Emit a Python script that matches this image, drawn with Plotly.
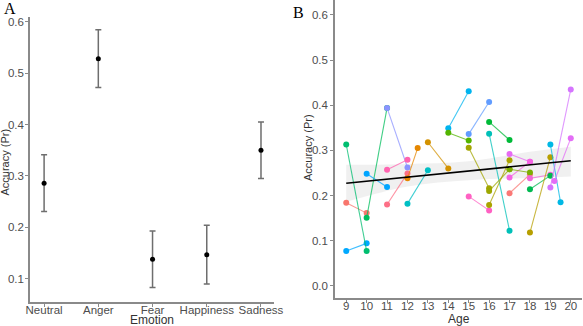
import plotly.graph_objects as go

# ---------------- Panel A data ----------------
emotions = ["Neutral", "Anger", "Fear", "Happiness", "Sadness"]
acc_mean = [0.286, 0.528, 0.138, 0.147, 0.350]
acc_err = [0.055, 0.056, 0.055, 0.057, 0.055]
a_yticks = [0.1, 0.2, 0.3, 0.4, 0.5, 0.6]

# ---------------- Panel B data ----------------
# each participant: two visits (age, accuracy)
p_age1 = [9, 9, 9, 10, 10, 11, 11, 11, 12, 12, 13, 14, 14, 15, 15, 15, 16, 16, 16, 16,
          17, 17, 17, 17, 18, 18, 18, 19, 19, 19.2]
p_acc1 = [0.184, 0.077, 0.313, 0.151, 0.248, 0.394, 0.257, 0.180, 0.238, 0.182, 0.318, 0.349,
          0.339, 0.336, 0.306, 0.198, 0.363, 0.337, 0.179, 0.210,
          0.292, 0.240, 0.205, 0.258, 0.238, 0.214, 0.118, 0.313, 0.218, 0.232]
p_age2 = [10, 10, 10, 11, 11, 12, 12, 12, 12.5, 13, 14, 15, 15, 16, 16, 16, 17, 17, 17, 17,
          18, 18, 18, 18, 19, 19, 19, 19.5, 20, 20]
p_acc2 = [0.161, 0.094, 0.077, 0.394, 0.219, 0.262, 0.279, 0.249, 0.305, 0.256, 0.260, 0.431,
          0.322, 0.407, 0.216, 0.167, 0.323, 0.122, 0.278, 0.258,
          0.275, 0.275, 0.247, 0.251, 0.246, 0.244, 0.285, 0.185, 0.435, 0.327]
p_color = ["#F8766D", "#00A9FF", "#00BE70", "#00BD5C", "#00A5FF", "#8B93FF", "#FF64B0", "#FD6F86",
           "#E58700", "#00BFC4", "#D39200", "#00B4EF", "#53B400", "#619CFF", "#A3A500", "#FF61C3",
           "#00BA38", "#00C0B8", "#ABA300", "#9DA700",
           "#E76BF3", "#F564E3", "#FA7876", "#7CAE00", "#F067D9", "#00B950", "#B79F00", "#00B8E5",
           "#D575FE", "#E36EF6"]

# fitted line and confidence band
fit_age = [9, 20]
fit_acc = [0.227, 0.277]
band_age = [9, 12, 15, 18, 20]
band_lo = [0.186, 0.220, 0.234, 0.239, 0.242]
band_hi = [0.268, 0.270, 0.276, 0.297, 0.308]
b_xticks = list(range(9, 21))
b_yticks = [0.0, 0.1, 0.2, 0.3, 0.4, 0.5, 0.6]


def rgba(h, a):
    h = h.lstrip("#")
    return "rgba(%d,%d,%d,%.2f)" % (int(h[0:2], 16), int(h[2:4], 16), int(h[4:6], 16), a)


fig = go.Figure()

# Panel A
fig.add_trace(go.Scatter(
    x=list(range(len(emotions))), y=acc_mean, mode="markers",
    marker=dict(color="black", size=5),
    error_y=dict(type="data", array=acc_err, color="#6e6e6e", thickness=1.5, width=3),
    xaxis="x", yaxis="y", showlegend=False))

# Panel B: confidence band
fig.add_trace(go.Scatter(x=band_age, y=band_lo, mode="lines", line=dict(width=0, shape="spline"),
                         xaxis="x2", yaxis="y2", showlegend=False, hoverinfo="skip"))
fig.add_trace(go.Scatter(x=band_age, y=band_hi, mode="lines", line=dict(width=0, shape="spline"),
                         fill="tonexty", fillcolor="rgba(225,225,225,0.5)",
                         xaxis="x2", yaxis="y2", showlegend=False, hoverinfo="skip"))

for a1, v1, a2, v2, c in zip(p_age1, p_acc1, p_age2, p_acc2, p_color):
    fig.add_trace(go.Scatter(
        x=[a1, a2], y=[v1, v2], mode="lines+markers",
        line=dict(color=rgba(c, 0.75), width=1.1),
        marker=dict(color=c, size=6),
        xaxis="x2", yaxis="y2", showlegend=False))

fig.add_trace(go.Scatter(x=fit_age, y=fit_acc, mode="lines", line=dict(color="black", width=1.6),
                         xaxis="x2", yaxis="y2", showlegend=False))

axis_common = dict(showline=True, linecolor="#8a8a8a", linewidth=1.5, ticks="outside",
                   ticklen=3, tickcolor="#8a8a8a", tickwidth=1, showgrid=False, zeroline=False,
                   automargin=False, tickangle=0,
                   tickfont=dict(family="Liberation Sans, Arial", size=11.5, color="#4d4d4d"))

fig.update_layout(
    width=583, height=326,
    margin=dict(l=0, r=0, t=0, b=0, autoexpand=False),
    paper_bgcolor="white", plot_bgcolor="white",
    font=dict(family="Liberation Sans, Arial", color="#333333"),
    xaxis=dict(domain=[30 / 583, 274 / 583], range=[-0.26, 4.24], ticklabelstandoff=-7,
               tickvals=list(range(len(emotions))), ticktext=emotions, **axis_common),
    yaxis=dict(domain=[24 / 326, 309 / 326], range=[0.055, 0.609], anchor="x",
               ticklabelstandoff=-1,
               tickvals=a_yticks, ticktext=["%.1f" % v for v in a_yticks], **axis_common),
    xaxis2=dict(domain=[335 / 583, 582 / 583], range=[8.45, 20.55], anchor="y2",
                ticklabelstandoff=-7, tickvals=b_xticks, **axis_common),
    yaxis2=dict(domain=[28 / 326, 1.0], range=[-0.027, 0.633], anchor="x2",
                tickvals=b_yticks, ticktext=["%.1f" % v for v in b_yticks], **axis_common),
    annotations=[
        dict(text="A", x=2 / 583, y=1 - 9 / 326, xref="paper", yref="paper", showarrow=False,
             xanchor="left", yanchor="middle",
             font=dict(family="Liberation Serif, Times New Roman", size=16, color="black")),
        dict(text="B", x=291 / 583, y=1 - 12 / 326, xref="paper", yref="paper", showarrow=False,
             xanchor="left", yanchor="middle",
             font=dict(family="Liberation Serif, Times New Roman", size=16, color="black")),
        dict(text="Accuracy (Pr)", x=4.5 / 583, y=1 - 162 / 326, xref="paper", yref="paper",
             showarrow=False, textangle=-90, xanchor="center", yanchor="middle",
             font=dict(size=11, color="#333333")),
        dict(text="Emotion", x=152 / 583, y=1 - 319.5 / 326, xref="paper", yref="paper",
             showarrow=False, xanchor="center", yanchor="middle",
             font=dict(size=12, color="#333333")),
        dict(text="Accuracy (Pr)", x=308 / 583, y=1 - 148 / 326, xref="paper", yref="paper",
             showarrow=False, textangle=-90, xanchor="center", yanchor="middle",
             font=dict(size=11, color="#333333")),
        dict(text="Age", x=459 / 583, y=1 - 319 / 326, xref="paper", yref="paper",
             showarrow=False, xanchor="center", yanchor="middle",
             font=dict(size=12, color="#333333")),
    ],
)

fig.write_html("out.html", config={"displayModeBar": False},
               post_script="document.body.style.margin='0px';document.body.style.overflow='hidden';")
